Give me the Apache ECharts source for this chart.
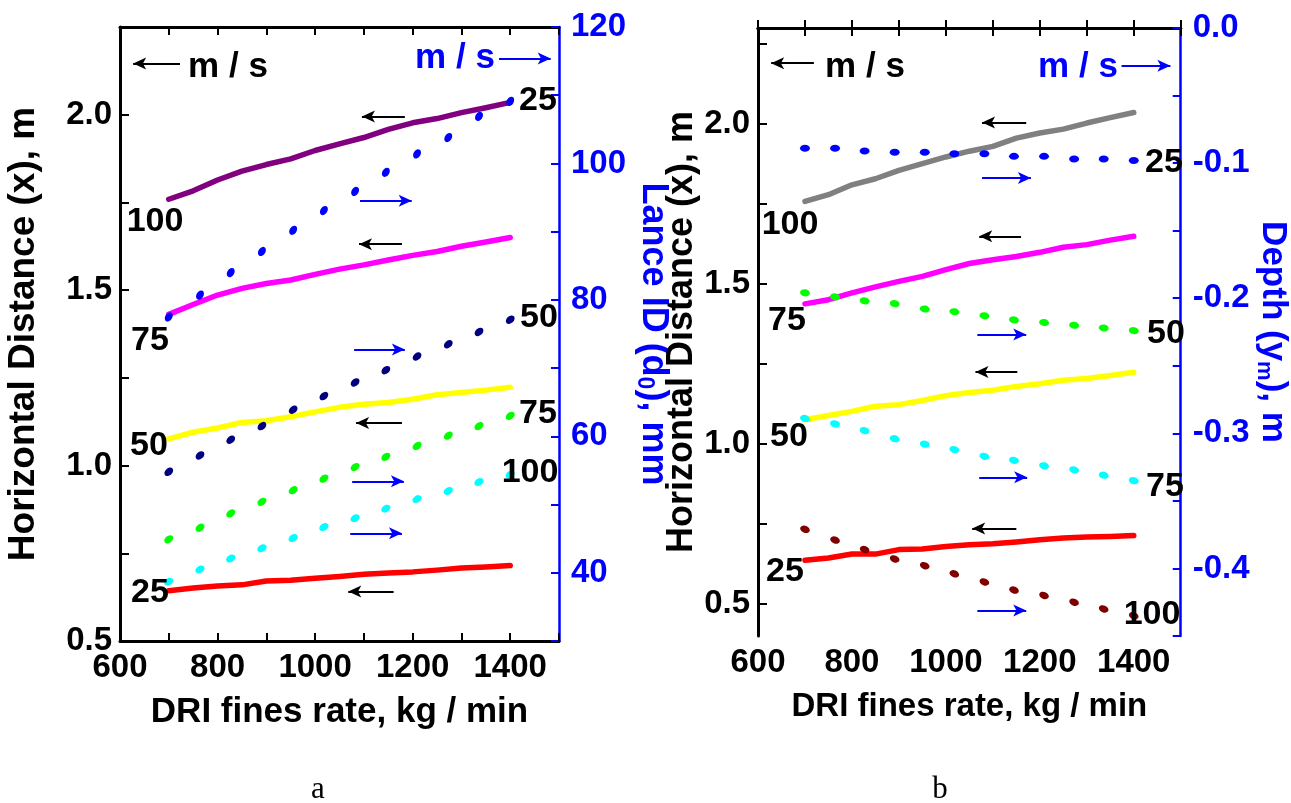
<!DOCTYPE html>
<html><head><meta charset="utf-8">
<script src="https://cdn.jsdelivr.net/npm/echarts@6.0.0/dist/echarts.min.js"></script>
<style>html,body{margin:0;padding:0;background:#fff}#c{width:1291px;height:803px}</style>
</head><body><div id="c"></div><script>
// ---------- DATA ----------
const rateX = [700,750,800,850,900,950,1000,1050,1100,1150,1200,1250,1300,1350,1400];
const dotX  = [700,764,827,891,955,1018,1082,1145,1209,1273,1336,1400];

// panel a : horizontal distance (m) for 100/75/50/25 m/s
const aDist100 = [1.759,1.783,1.814,1.839,1.858,1.874,1.898,1.917,1.935,1.958,1.977,1.989,2.006,2.020,2.035];
const aDist75  = [1.431,1.459,1.486,1.505,1.519,1.529,1.545,1.560,1.572,1.586,1.599,1.610,1.625,1.637,1.650];
const aDist50  = [1.076,1.095,1.107,1.123,1.128,1.139,1.153,1.166,1.175,1.180,1.189,1.202,1.208,1.215,1.223];
const aDist25  = [0.643,0.651,0.657,0.660,0.671,0.673,0.679,0.684,0.690,0.694,0.697,0.702,0.708,0.711,0.715];
// panel a : lance ID (mm) for 25/50/75/100 m/s
const aLance25  = [77.5,80.7,84.0,87.1,90.2,93.1,95.9,98.7,101.4,103.8,106.9,109.1];
const aLance50  = [54.8,57.2,59.5,61.5,63.9,65.9,67.9,69.7,71.7,73.5,75.3,77.1];
const aLance75  = [44.9,46.6,48.7,50.4,52.1,53.8,55.5,57.0,58.6,60.1,61.5,63.0];
const aLance100 = [38.7,40.5,42.1,43.6,45.1,46.7,48.0,49.4,50.8,52.0,53.3,54.4];

// panel b : horizontal distance (m)
const bDist100 = [1.758,1.779,1.810,1.829,1.855,1.876,1.897,1.915,1.930,1.956,1.972,1.984,2.003,2.020,2.036];
const bDist75  = [1.438,1.451,1.472,1.491,1.508,1.524,1.545,1.564,1.576,1.586,1.599,1.615,1.623,1.637,1.649];
const bDist50  = [1.076,1.089,1.102,1.118,1.123,1.136,1.151,1.161,1.168,1.180,1.188,1.199,1.205,1.214,1.224];
const bDist25  = [0.637,0.644,0.656,0.656,0.670,0.672,0.680,0.685,0.688,0.694,0.701,0.706,0.709,0.711,0.714];
// panel b : depth (m)
const bDepth25  = [-0.089,-0.089,-0.091,-0.092,-0.092,-0.093,-0.093,-0.095,-0.095,-0.097,-0.097,-0.098];
const bDepth50  = [-0.196,-0.199,-0.202,-0.204,-0.208,-0.210,-0.213,-0.216,-0.218,-0.220,-0.222,-0.224];
const bDepth75  = [-0.289,-0.293,-0.298,-0.304,-0.308,-0.312,-0.317,-0.320,-0.324,-0.327,-0.331,-0.335];
const bDepth100 = [-0.371,-0.379,-0.386,-0.393,-0.398,-0.404,-0.410,-0.416,-0.420,-0.425,-0.430,-0.435];

// tick values
const xLabels = [600,800,1000,1200,1400];
const aLeftTicks = [0.5,0.75,1.0,1.25,1.5,1.75,2.0];
const aLeftLabels = [0.5,1.0,1.5,2.0];
const aRightLabels = [40,60,80,100,120];
const bLeftTicks = [0.5,0.75,1.0,1.25,1.5,1.75,2.0,2.25];
const bLeftLabels = [0.5,1.0,1.5,2.0];
const bRightLabels = [-0.4,-0.3,-0.2,-0.1,0.0];

// arrow annotations, in left-axis data coords: [x1,y1,x2,y2,colour]
const arrowsA = [
  [723,2.146,627,2.146,'#000'], [1377,2.16,1483,2.16,'#00f'],
  [1184,1.995,1096,1.995,'#000'], [1092,1.755,1198,1.755,'#00f'],
  [1178,1.631,1090,1.631,'#000'], [1080,1.331,1184,1.331,'#00f'],
  [1178,1.121,1084,1.121,'#000'], [1076,0.955,1182,0.955,'#00f'],
  [1072,0.807,1178,0.807,'#00f'], [1161,0.641,1068,0.641,'#000']
];
const arrowsB = [
  [719,2.19,628,2.19,'#000'], [1374,2.182,1478,2.182,'#00f'],
  [1171,2.005,1077,2.005,'#000'], [1077,1.831,1181,1.831,'#00f'],
  [1160,1.649,1071,1.649,'#000'], [1067,1.342,1171,1.342,'#00f'],
  [1152,1.225,1063,1.225,'#000'], [1071,0.896,1173,0.896,'#00f'],
  [1150,0.736,1056,0.736,'#000'], [1067,0.480,1171,0.480,'#00f']
];

// ---------- STYLE ----------
const FONT = "'Liberation Sans', Arial, Helvetica, sans-serif";
const BLUE = '#0000ff';
const tickFont = {fontSize: 33, fontWeight: 'bold', fontFamily: FONT};

const pair = (xs, ys) => xs.map((x, i) => [x, ys[i]]);

function bottomX(grid, titleSize) {
  return {type:'value', gridIndex:grid, position:'bottom', min:600, max:1500, interval:100,
    axisLine:{show:true, lineStyle:{color:'#000', width:3}},
    axisTick:{show:true, inside:true, length:8, lineStyle:{color:'#000', width:2}},
    axisLabel:Object.assign({customValues:xLabels, color:'#000', margin:10, formatter:v => String(v)}, tickFont),
    splitLine:{show:false},
    name:'DRI fines rate, kg / min', nameLocation:'middle', nameGap:54,
    nameTextStyle:{color:'#000', fontSize:titleSize, fontWeight:'bold', fontFamily:FONT}};
}
function topX(grid) {
  return {type:'value', gridIndex:grid, position:'top', min:600, max:1500, interval:100,
    axisLine:{show:true, lineStyle:{color:'#000', width:3}},
    axisTick:{show:true, inside:true, length:8, lineStyle:{color:'#000', width:2}},
    axisLabel:{show:false}, splitLine:{show:false}};
}
function leftY(grid, min, max, ticks, labels, gap, titleSize) {
  return {type:'value', gridIndex:grid, position:'left', min:min, max:max,
    axisLine:{show:true, lineStyle:{color:'#000', width:3}},
    axisTick:{show:true, inside:true, length:9, customValues:ticks, lineStyle:{color:'#000', width:2}},
    axisLabel:Object.assign({customValues:labels, color:'#000', margin:8, formatter:v => Number(v).toFixed(1)}, tickFont),
    splitLine:{show:false},
    name:'Horizontal Distance (x), m', nameLocation:'middle', nameGap:gap,
    nameTextStyle:{color:'#000', fontSize:titleSize, fontWeight:'bold', fontFamily:FONT}};
}
function subName(main1, sub, main2) {
  return '{t|' + main1 + '}{s|' + sub + '}{t|' + main2 + '}';
}
function richBlue(size) {
  return {
    t:{fontSize:size, fontWeight:'bold', fontFamily:FONT, color:BLUE, lineHeight:size + 3},
    s:{fontSize:Math.round(size * 0.63), fontWeight:'bold', fontFamily:FONT, color:BLUE, verticalAlign:'bottom', lineHeight:Math.round(size * 0.63)}
  };
}

const option = {
  animation:false,
  backgroundColor:'#fff',
  grid:[
    {left:120, right:732, top:27, bottom:162},
    {left:758, right:110, top:28, bottom:167}
  ],
  xAxis:[bottomX(0, 35), topX(0), bottomX(1, 33), topX(1)],
  yAxis:[
    leftY(0, 0.5, 2.25, aLeftTicks, aLeftLabels, 78, 37),
    {type:'value', gridIndex:0, position:'right', min:30, max:120, interval:10,
      axisLine:{show:true, lineStyle:{color:BLUE, width:2.5}},
      axisTick:{show:true, inside:true, length:8, lineStyle:{color:BLUE, width:2}},
      axisLabel:Object.assign({customValues:aRightLabels, color:BLUE, margin:12}, tickFont),
      splitLine:{show:false},
      name:subName('Lance ID (d','0','), mm'), nameLocation:'middle', nameRotate:-90, nameGap:74,
      nameTextStyle:{color:BLUE, rich:richBlue(36)}},
    leftY(1, 0.4, 2.3, bLeftTicks, bLeftLabels, 50, 36),
    {type:'value', gridIndex:1, position:'right', min:-0.45, max:0, interval:0.05,
      axisLine:{show:true, lineStyle:{color:BLUE, width:2.5}},
      axisTick:{show:true, inside:true, length:8, lineStyle:{color:BLUE, width:2}},
      axisLabel:Object.assign({customValues:bRightLabels, color:BLUE, margin:12, formatter:v => Number(v).toFixed(1)}, tickFont),
      splitLine:{show:false},
      name:subName('Depth (y','m','), m'), nameLocation:'middle', nameRotate:-90, nameGap:63,
      nameTextStyle:{color:BLUE, rich:richBlue(35)}}
  ],
  graphic:[],
  series:[]
};

function solid(xi, yi, ys, color, arrows) {
  const s = {type:'line', xAxisIndex:xi, yAxisIndex:yi, data:pair(rateX, ys), showSymbol:false, symbol:'none',
    lineStyle:{color:color, width:5.5, cap:'round', join:'round'}, itemStyle:{color:color}, z:2};
  if (arrows) {
    s.markLine = {silent:true, symbol:['none','arrow'], symbolSize:[9,13], label:{show:false}, animation:false,
      data:arrows.map(a => [{coord:[a[0],a[1]], lineStyle:{color:a[4], width:2, type:'solid'}, itemStyle:{color:a[4]}},
                             {coord:[a[2],a[3]]}])};
  }
  return s;
}
function dotted(xi, yi, ys, color, rot) {
  return {type:'scatter', xAxisIndex:xi, yAxisIndex:yi, data:pair(dotX, ys), symbol:'circle',
    symbolSize:[10,7], symbolRotate:rot, itemStyle:{color:color, opacity:1}, z:3};
}

option.series.push(
  solid(0,0,aDist100,'#800080',arrowsA),
  solid(0,0,aDist75,'#ff00ff'),
  solid(0,0,aDist50,'#ffff00'),
  solid(0,0,aDist25,'#ff0000'),
  dotted(0,1,aLance25,'#0000ff',58),
  dotted(0,1,aLance50,'#000080',42),
  dotted(0,1,aLance75,'#00ff00',38),
  dotted(0,1,aLance100,'#00ffff',32),
  solid(2,2,bDist100,'#808080',arrowsB),
  solid(2,2,bDist75,'#ff00ff'),
  solid(2,2,bDist50,'#ffff00'),
  solid(2,2,bDist25,'#ff0000'),
  dotted(2,3,bDepth25,'#0000ff',0),
  dotted(2,3,bDepth50,'#00ff00',-10),
  dotted(2,3,bDepth75,'#00ffff',-14),
  dotted(2,3,bDepth100,'#800000',-22)
);

// text annotations
function txt(t, x, y, color, size, family, weight) {
  return {type:'text', x:x, y:y, z:100, silent:true,
    style:{text:t, fill:color, fontSize:size, fontWeight:weight || 'bold', fontFamily:family || FONT,
      textAlign:'center', textVerticalAlign:'middle'}};
}
option.graphic.push(
  txt('m / s', 228, 67, '#000', 35), txt('m / s', 455, 58, BLUE, 35),
  txt('m / s', 865, 67, '#000', 35), txt('m / s', 1078, 67, BLUE, 35),
  txt('100', 155, 222, '#000', 34), txt('75', 150, 341, '#000', 34),
  txt('50', 149, 446, '#000', 34), txt('25', 150, 593, '#000', 34),
  txt('25', 538, 101, '#000', 34), txt('50', 539, 318, '#000', 34),
  txt('75', 538, 414, '#000', 34), txt('100', 530, 473, '#000', 34),
  txt('100', 790, 225, '#000', 34), txt('75', 787, 321, '#000', 34),
  txt('50', 789, 437, '#000', 34), txt('25', 785, 572, '#000', 34),
  txt('25', 1164, 163, '#000', 34), txt('50', 1166, 334, '#000', 34),
  txt('75', 1165, 487, '#000', 34), txt('100', 1152, 615, '#000', 34),
  txt('a', 318, 790, '#000', 31, "'Liberation Serif', 'Times New Roman', serif", 'normal'),
  txt('b', 940, 790, '#000', 31, "'Liberation Serif', 'Times New Roman', serif", 'normal')
);

const chart = echarts.init(document.getElementById('c'), null, {renderer:'canvas'});
chart.setOption(option);
</script></body></html>
